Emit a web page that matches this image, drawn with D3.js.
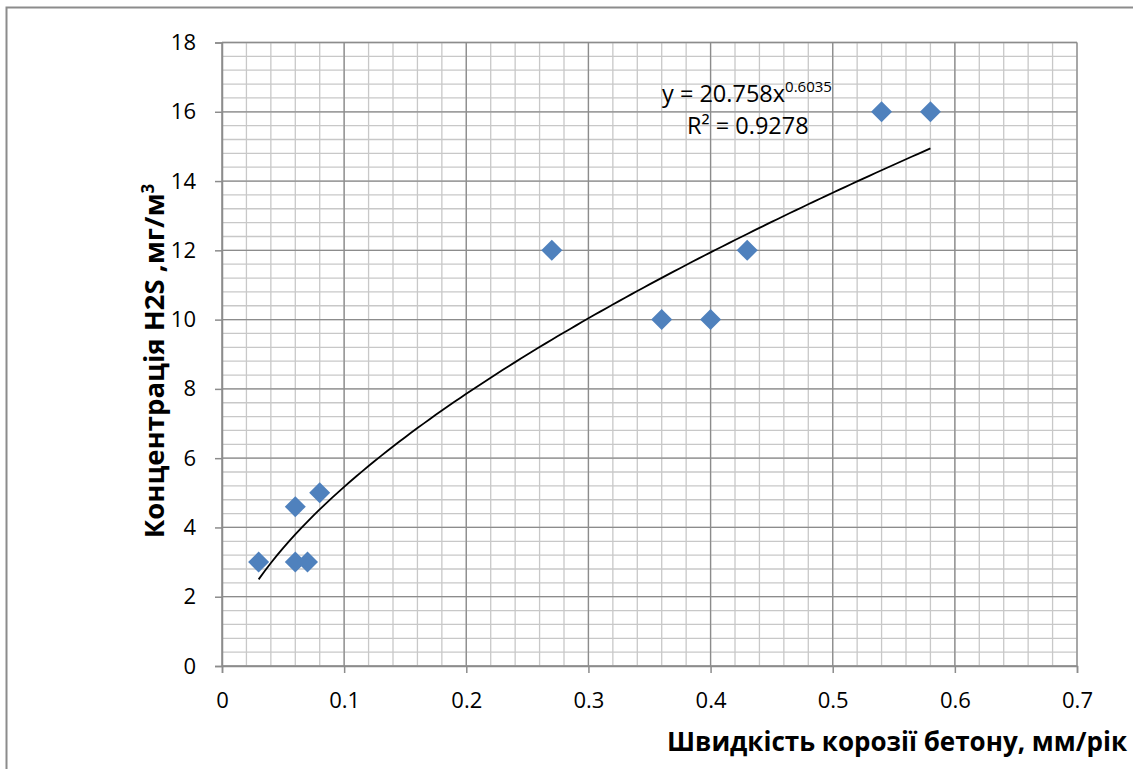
<!DOCTYPE html>
<html>
<head>
<meta charset="utf-8">
<script src="https://cdn.jsdelivr.net/npm/d3@7"></script>
<style>
  body { margin: 0; background: #fff; }
  svg text { font-family: "Open Sans", "Noto Sans", sans-serif; fill: #000; }
</style>
</head>
<body>
<div class="svgContainer"></div>
<script>
// measured points: corrosion rate (mm/yr) vs H2S concentration (mg/m3)
const rateValues = [0.03, 0.06, 0.07, 0.06, 0.08, 0.27, 0.36, 0.40, 0.43, 0.54, 0.58];
const h2sValues = [3, 3, 3, 4.6, 5, 12, 10, 10, 12, 16, 16];
const xTicks = [0, 0.1, 0.2, 0.3, 0.4, 0.5, 0.6, 0.7];
const yTicks = [0, 2, 4, 6, 8, 10, 12, 14, 16, 18];
// power trend y = a * x^b
const trendA = 20.758;
const trendB = 0.6035;
const trendR2 = '0.9278';

const width = 1133;
const height = 769;
const plotLeft = 222, plotRight = 1077, plotTop = 42.5, plotBottom = 666;

const svg = d3.select('.svgContainer').append('svg')
  .attr('width', width)
  .attr('height', height);

svg.append('rect')
  .attr('x', 6.5).attr('y', 7.5)
  .attr('width', width).attr('height', height)
  .attr('fill', '#fff')
  .attr('stroke', '#8c8c8c')
  .attr('stroke-width', 2);

const scaleX = d3.scaleLinear().domain([0, 0.7]).range([plotLeft, plotRight]);
const scaleY = d3.scaleLinear().domain([0, 18]).range([plotBottom, plotTop]);

// minor grid
const g = svg.append('g');
g.selectAll('line.minor-x')
  .data(d3.range(0, 36).map(i => i * 0.02))
  .enter().append('line')
  .attr('x1', d => scaleX(d)).attr('x2', d => scaleX(d))
  .attr('y1', plotTop).attr('y2', plotBottom)
  .attr('stroke', '#c8c8c8').attr('stroke-width', 1.3);
g.selectAll('line.minor-y')
  .data(d3.range(0, 46).map(i => i * 0.4))
  .enter().append('line')
  .attr('x1', plotLeft).attr('x2', plotRight)
  .attr('y1', d => scaleY(d)).attr('y2', d => scaleY(d))
  .attr('stroke', '#c8c8c8').attr('stroke-width', 1.3);

// major grid
g.selectAll('line.major-x')
  .data(xTicks)
  .enter().append('line')
  .attr('x1', d => scaleX(d)).attr('x2', d => scaleX(d))
  .attr('y1', plotTop).attr('y2', plotBottom)
  .attr('stroke', '#8c8c8c').attr('stroke-width', 1.3);
g.selectAll('line.major-y')
  .data(yTicks)
  .enter().append('line')
  .attr('x1', plotLeft).attr('x2', plotRight)
  .attr('y1', d => scaleY(d)).attr('y2', d => scaleY(d))
  .attr('stroke', '#8c8c8c').attr('stroke-width', 1.3);

// axes
const xAxis = d3.axisBottom(scaleX).tickValues(xTicks).tickSize(7).tickPadding(19)
  .tickFormat(d => d === 0 ? '0' : d3.format('.1f')(d));
const yAxis = d3.axisLeft(scaleY).tickValues(yTicks).tickSize(7).tickPadding(19)
  .tickFormat(d3.format('d'));

const gx = svg.append('g')
  .attr('transform', 'translate(0,' + plotBottom + ')')
  .call(xAxis);
const gy = svg.append('g')
  .attr('transform', 'translate(' + plotLeft + ',0)')
  .call(yAxis);
[gx, gy].forEach(a => {
  a.select('.domain').attr('stroke', '#8c8c8c').attr('stroke-width', 1.5);
  a.selectAll('.tick line').attr('stroke', '#8c8c8c').attr('stroke-width', 1.5);
  a.selectAll('.tick text').attr('font-size', 22).attr('fill', '#000')
    .style('font-family', '"Open Sans", sans-serif');
});

// trend line
const trendXs = d3.range(0, 111).map(i => rateValues[0] + i * (0.58 - rateValues[0]) / 110);
const line = d3.line()
  .x(d => scaleX(d))
  .y(d => scaleY(trendA * Math.pow(d, trendB)));
svg.append('path')
  .datum(trendXs)
  .attr('d', line)
  .attr('fill', 'none')
  .attr('stroke', '#000')
  .attr('stroke-width', 1.8);

// points
svg.selectAll('path.pt')
  .data(rateValues.map((r, i) => ({x: r, y: h2sValues[i]})))
  .enter().append('path')
  .attr('class', 'pt')
  .attr('transform', d => 'translate(' + scaleX(d.x) + ',' + scaleY(d.y) + ')')
  .attr('d', 'M0,-10.5L10.5,0L0,10.5L-10.5,0Z')
  .attr('fill', '#4f81bd');

// trend label
const eq = svg.append('text')
  .attr('x', 662).attr('y', 102)
  .attr('font-size', 23.5);
eq.append('tspan').text('y = ' + trendA + 'x');
eq.append('tspan').attr('dy', -10).attr('font-size', 15).text(trendB);
svg.append('text')
  .attr('x', 687).attr('y', 134)
  .attr('font-size', 23.5)
  .text('R² = ' + trendR2);

// axis titles
svg.append('text')
  .attr('x', 1127).attr('y', 751)
  .attr('text-anchor', 'end')
  .attr('font-size', 26)
  .attr('font-weight', 'bold')
  .text('Швидкість корозії бетону, мм/рік');

const yt = svg.append('text')
  .attr('transform', 'translate(164,361) rotate(-90)')
  .attr('text-anchor', 'middle')
  .attr('font-size', 27.5)
  .attr('font-weight', 'bold');
yt.append('tspan').text('Концентрація H2S ,мг/м');
yt.append('tspan').attr('dy', -10).attr('font-size', 17).text('3');
</script>
</body>
</html>
